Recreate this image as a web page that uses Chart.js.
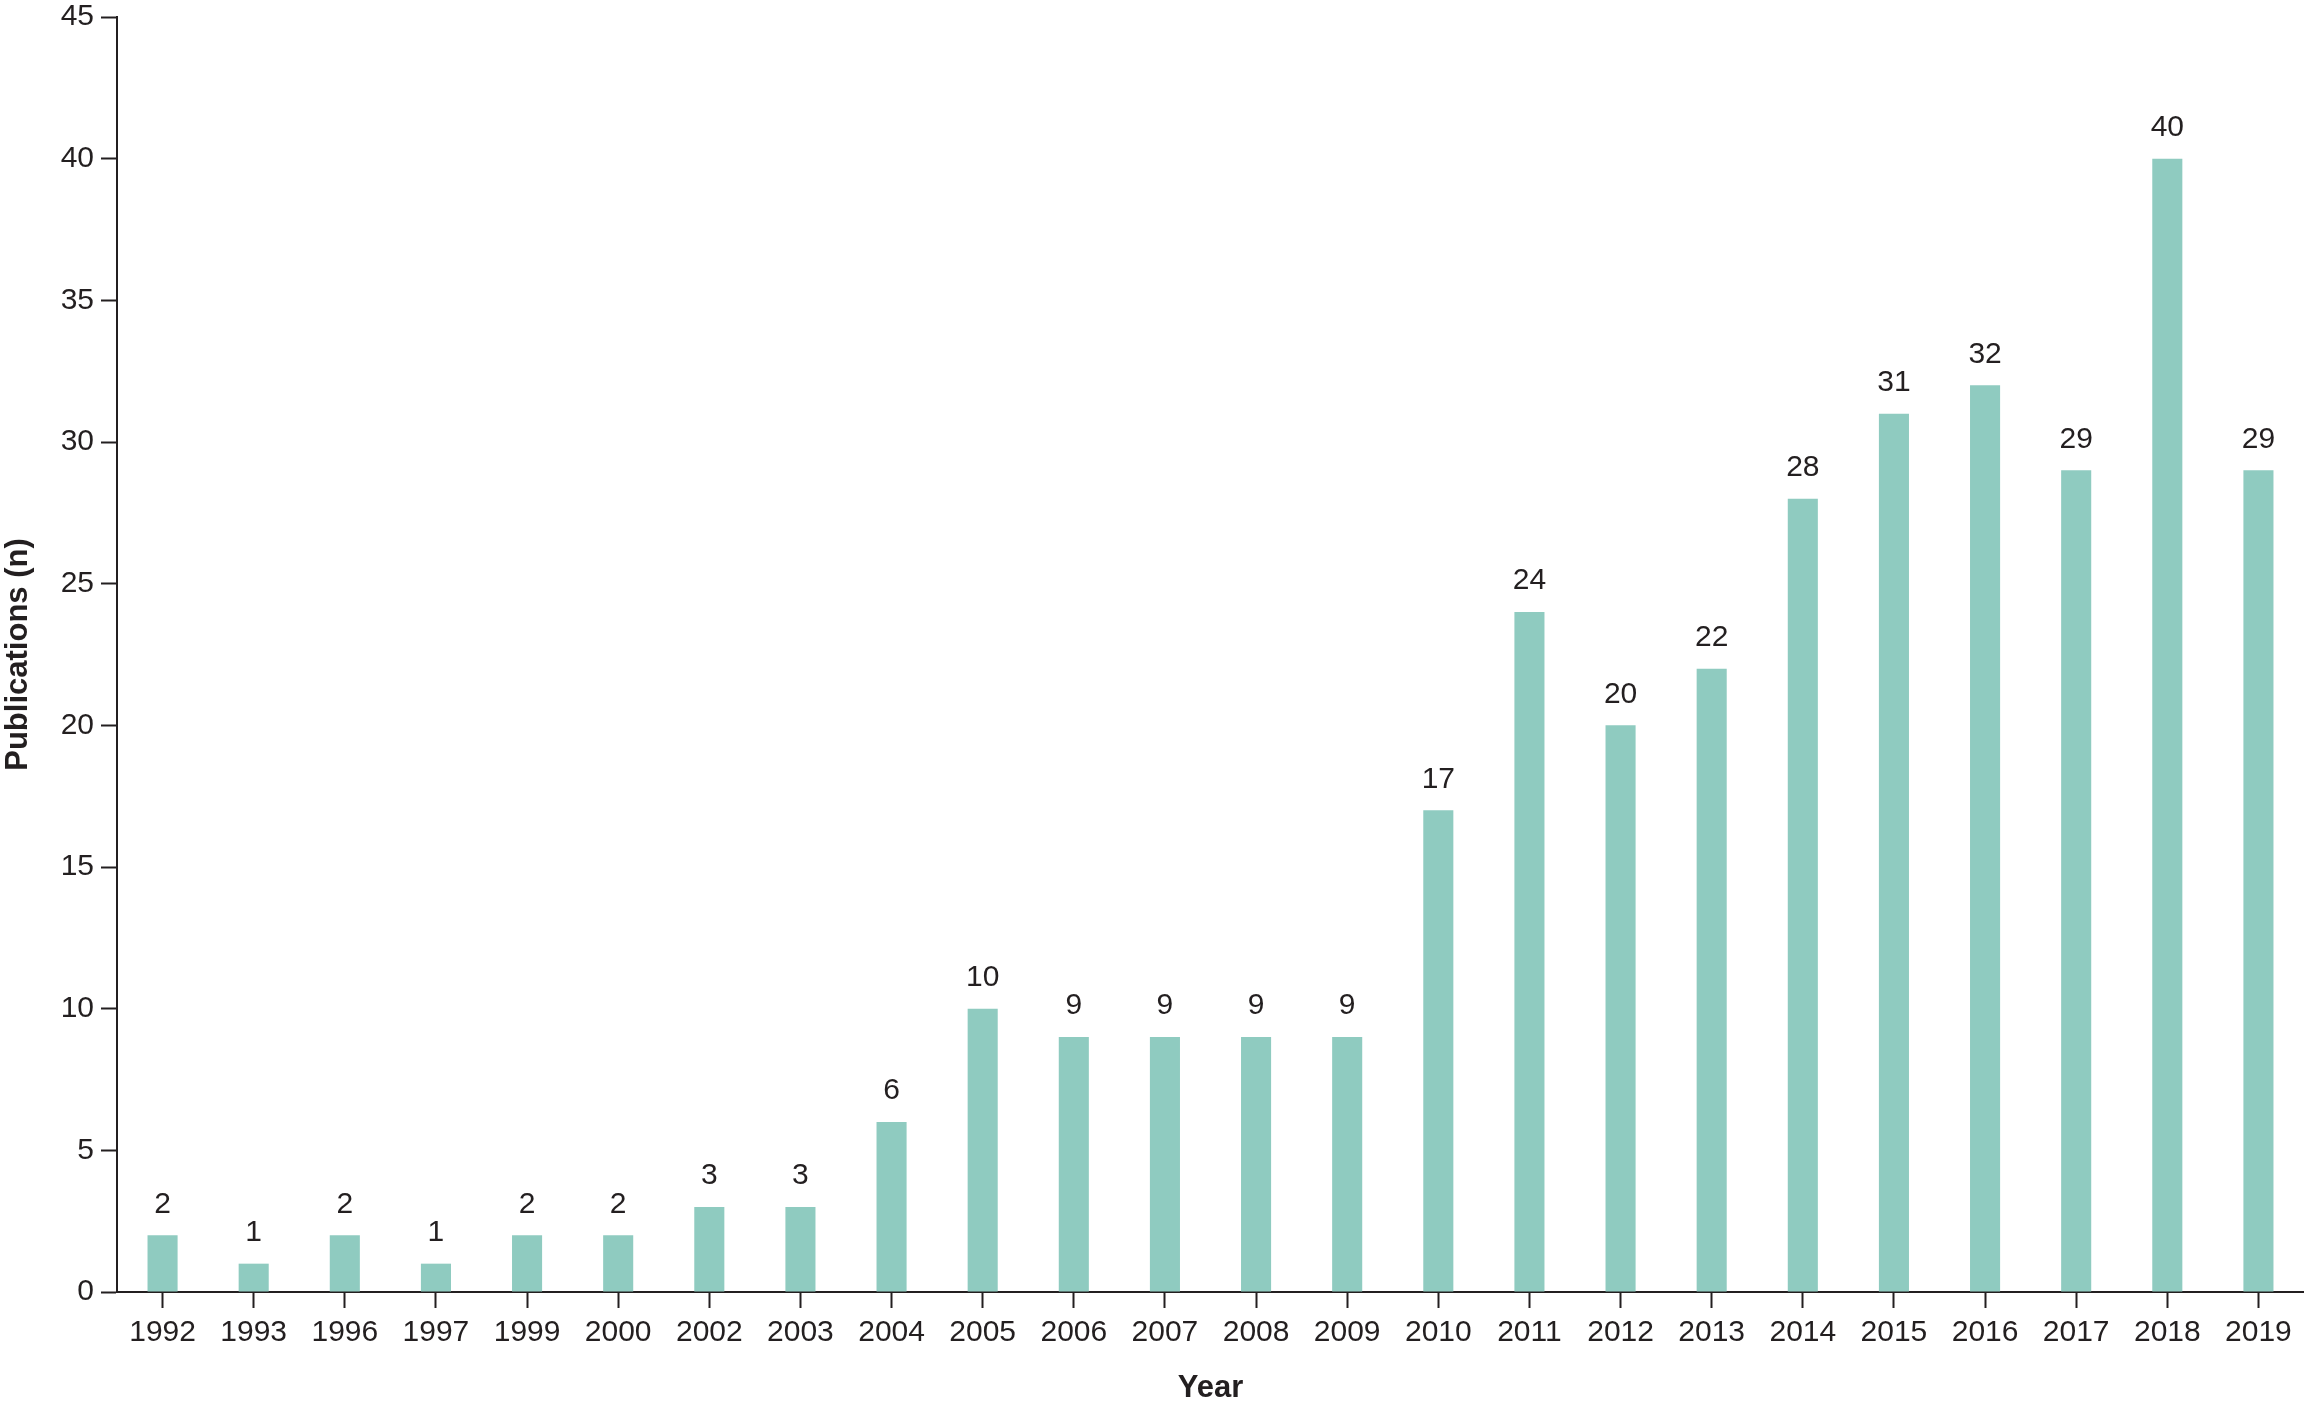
<!DOCTYPE html>
<html>
<head>
<meta charset="utf-8">
<script src="https://cdn.jsdelivr.net/npm/chart.js@4/dist/chart.umd.min.js"></script>
<style>
  html, body { margin: 0; padding: 0; background: #fff; }
  canvas { display: block; }
</style>
</head>
<body>
<canvas id="chart1" width="2304" height="1408"></canvas>
<script>
const years = ['1992', '1993', '1996', '1997', '1999', '2000', '2002', '2003', '2004', '2005',
  '2006', '2007', '2008', '2009', '2010', '2011', '2012', '2013', '2014', '2015',
  '2016', '2017', '2018', '2019'];
const publications = [2, 1, 2, 1, 2, 2, 3, 3, 6, 10, 9, 9, 9, 9, 17, 24, 20, 22, 28, 31, 32, 29, 40, 29];
const yTicks = [0, 5, 10, 15, 20, 25, 30, 35, 40, 45];

const ink = '#231f20';
Chart.defaults.font.family = "'Liberation Sans', Arial, Helvetica, sans-serif";
Chart.defaults.color = ink;

// value labels above each bar
const barLabels = {
  id: 'barLabels',
  afterDatasetsDraw(chart) {
    const ctx = chart.ctx;
    const meta = chart.getDatasetMeta(0);
    ctx.save();
    ctx.font = "30px 'Liberation Sans', Arial, sans-serif";
    ctx.fillStyle = ink;
    ctx.textAlign = 'center';
    ctx.textBaseline = 'middle';
    meta.data.forEach((bar, i) => {
      ctx.fillText(String(chart.data.datasets[0].data[i]), bar.x, bar.y - 31);
    });
    ctx.restore();
  }
};

const ctx1 = document.getElementById('chart1');
const pubChart = new Chart(ctx1, {
  type: 'bar',
  data: {
    labels: years,
    datasets: [{
      label: 'Publications',
      data: publications,
      backgroundColor: '#8fcbc0',
      borderWidth: 0,
      barPercentage: 0.33,
      categoryPercentage: 1
    }]
  },
  options: {
    responsive: false,
    animation: false,
    layout: { padding: 0 },
    plugins: {
      legend: { display: false },
      tooltip: { enabled: false }
    },
    scales: {
      x: {
        offset: true,
        afterFit: s => { s.height = 116; s.paddingLeft = 0; s.paddingRight = 0; },
        grid: {
          offset: false,
          drawOnChartArea: false,
          tickLength: 16,
          tickWidth: 2,
          tickColor: ink
        },
        border: { color: ink, width: 2 },
        ticks: { font: { size: 30 }, color: ink, padding: 7, maxRotation: 0, autoSkip: false },
        title: {
          display: true,
          text: 'Year',
          color: ink,
          font: { size: 31, weight: 'bold' },
          padding: { top: 0, bottom: 1 }
        }
      },
      y: {
        min: 0,
        max: 45,
        afterFit: s => { s.width = 117; s.paddingTop = 17; s.paddingBottom = 0; },
        afterBuildTicks: s => { s.ticks = yTicks.map(v => ({ value: v })); },
        grid: {
          drawOnChartArea: false,
          tickLength: 16,
          tickWidth: 2,
          tickColor: ink
        },
        border: { color: ink, width: 2 },
        ticks: { font: { size: 30 }, color: ink, padding: 7 },
        title: {
          display: true,
          text: 'Publications (n)',
          color: ink,
          font: { size: 31, weight: 'bold' },
          padding: { top: 0, bottom: 0 }
        }
      }
    }
  },
  plugins: [barLabels]
});
</script>
</body>
</html>
